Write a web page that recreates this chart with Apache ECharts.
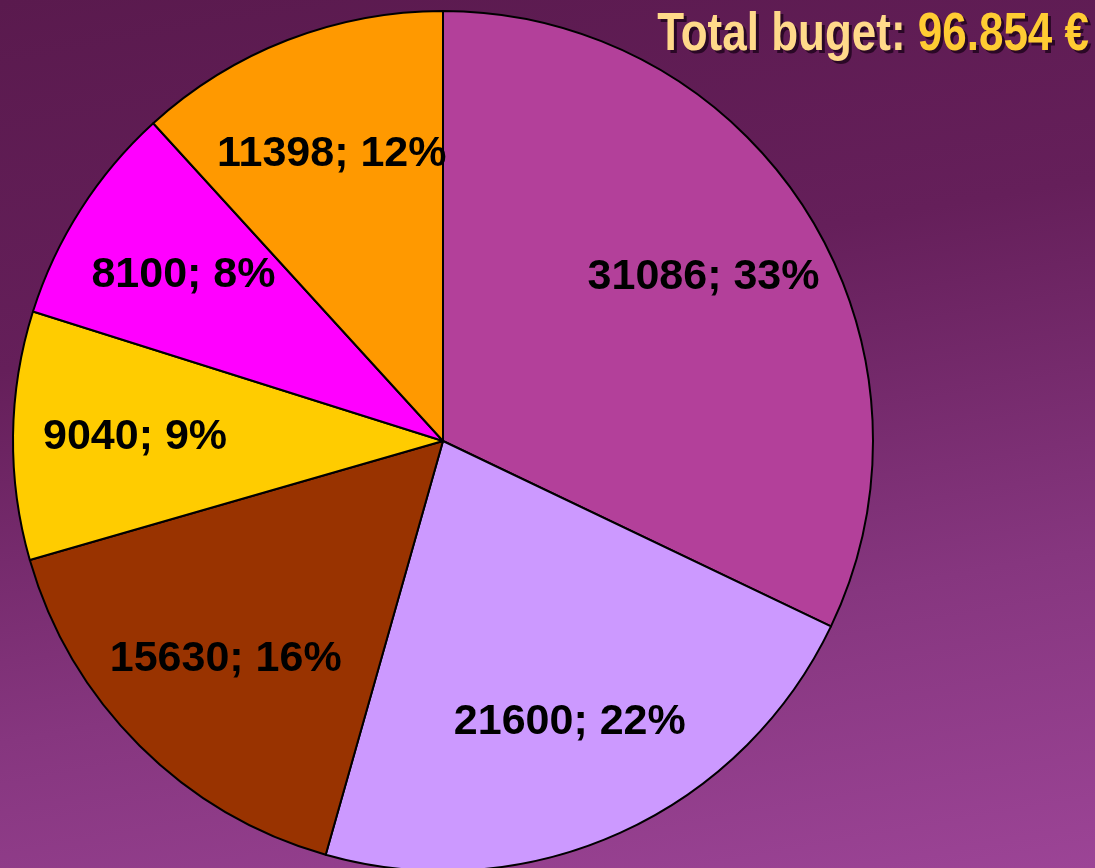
<!DOCTYPE html>
<html>
<head>
<meta charset="utf-8">
<script src="https://cdn.jsdelivr.net/npm/echarts@6/dist/echarts.min.js"></script>
<style>
  html, body { margin: 0; padding: 0; }
  #main {
    width: 1095px;
    height: 868px;
    background: linear-gradient(170deg, #5a1a4e 0%, #651f5a 35%, #86367f 70%, #9c4496 100%);
  }
</style>
</head>
<body>
<div id="main"></div>
<script>
// chart data
var categories = ['A', 'B', 'C', 'D', 'E', 'F'];
var values = [31086, 21600, 15630, 9040, 8100, 11398];
var percents = [33, 22, 16, 9, 8, 12];
var colors = ['#b3409a', '#cc99ff', '#993300', '#ffcc00', '#ff00ff', '#ff9900'];
var totalText = '96.854 €';

var chart = echarts.init(document.getElementById('main'), null, { renderer: 'canvas' });

var pieData = categories.map(function (c, i) {
  return { name: c, value: values[i], itemStyle: { color: colors[i] } };
});
//透明的一层只用来放标签
var labelData = categories.map(function (c, i) {
  return { name: c, value: values[i], pct: percents[i] };
});

var titleFont = 'bold 53px "Liberation Sans", Arial, sans-serif';

// 标题文字 (先画阴影再画正文)
function titleText(dx, dy, colA, colB) {
  return {
    type: 'text',
    x: 1089 + dx,
    y: 9 + dy,
    scaleX: 0.83,
    originX: 0,
    originY: 0,
    silent: true,
    style: {
      text: '{a|Total buget: }{b|' + totalText + '}',
      align: 'right',
      verticalAlign: 'top',
      rich: {
        a: { fill: colA, font: titleFont },
        b: { fill: colB, font: titleFont }
      }
    }
  };
}

var option = {
  backgroundColor: 'transparent',
  animation: false,
  graphic: [
    titleText(3, 3, '#2a0826', '#2a0826'),
    titleText(0, 0, '#ffd98a', '#ffcc33')
  ],
  series: [
    {
      type: 'pie',
      center: [443, 441],
      radius: [0, 430],
      startAngle: 90,
      clockwise: true,
      silent: true,
      label: { show: false },
      labelLine: { show: false },
      itemStyle: {
        borderColor: '#000',
        borderWidth: 2
      },
      data: pieData
    },
    {
      type: 'pie',
      center: [443, 441],
      radius: [180, 430],
      startAngle: 90,
      clockwise: true,
      silent: true,
      itemStyle: { color: 'transparent', borderWidth: 0 },
      label: {
        show: true,
        position: 'inside',
        color: '#000',
        fontSize: 43,
        fontWeight: 'bold',
        fontFamily: '"Liberation Sans", Arial, sans-serif',
        formatter: function (p) {
          return p.value + '; ' + p.data.pct + '%';
        }
      },
      labelLine: { show: false },
      data: labelData
    }
  ]
};

chart.setOption(option);
</script>
</body>
</html>
